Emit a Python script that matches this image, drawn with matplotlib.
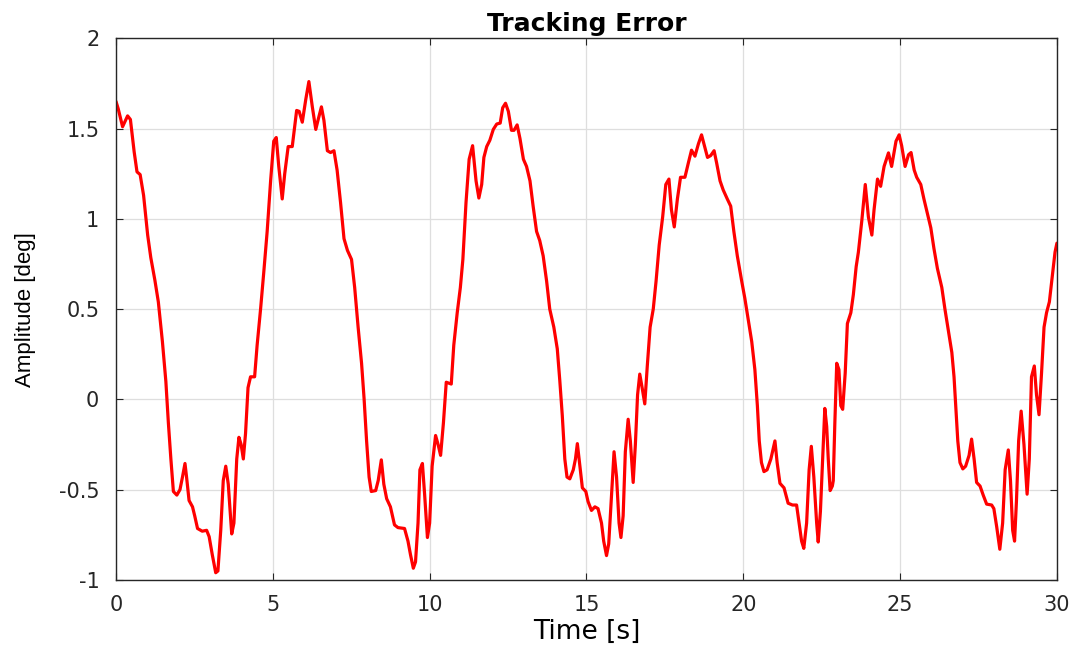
import matplotlib
matplotlib.use("Agg")
import matplotlib.pyplot as plt

plt.rcParams['font.family'] = ['DejaVu Sans']
plt.rcParams['axes.unicode_minus'] = False

# Tracking error samples (time in s, amplitude in deg)
time_s = [
    0.00, 0.07, 0.21, 0.37, 0.46, 0.58, 0.67, 0.77, 0.88, 1.01, 1.11, 1.24, 1.35, 1.48,
    1.59, 1.67, 1.75, 1.83, 1.94, 2.04, 2.12, 2.20, 2.25, 2.33, 2.44, 2.51, 2.60, 2.75,
    2.89, 2.97, 3.07, 3.18, 3.25, 3.34, 3.42, 3.50, 3.58, 3.69, 3.76, 3.85, 3.92, 3.99,
    4.06, 4.13, 4.21, 4.29, 4.42, 4.50, 4.61, 4.71, 4.82, 4.93, 5.03, 5.11, 5.19, 5.30,
    5.38, 5.49, 5.62, 5.76, 5.84, 5.94, 6.05, 6.15, 6.26, 6.37, 6.44, 6.55, 6.63, 6.74,
    6.84, 6.95, 7.05, 7.16, 7.27, 7.38, 7.51, 7.61, 7.72, 7.83, 7.91, 7.99, 8.07, 8.14,
    8.28, 8.36, 8.46, 8.54, 8.63, 8.75, 8.88, 8.99, 9.20, 9.31, 9.39, 9.48, 9.55, 9.63,
    9.69, 9.77, 9.84, 9.93, 10.00, 10.08, 10.19, 10.27, 10.35, 10.44, 10.53, 10.69, 10.77,
    10.88, 10.98, 11.06, 11.16, 11.26, 11.37, 11.48, 11.57, 11.66, 11.73, 11.82, 11.92,
    12.03, 12.14, 12.25, 12.33, 12.42, 12.51, 12.61, 12.69, 12.79, 12.88, 12.99, 13.09,
    13.20, 13.30, 13.41, 13.51, 13.62, 13.73, 13.83, 13.96, 14.07, 14.15, 14.23, 14.31,
    14.38, 14.47, 14.58, 14.65, 14.71, 14.79, 14.87, 14.98, 15.05, 15.16, 15.27, 15.37,
    15.48, 15.55, 15.64, 15.71, 15.80, 15.88, 15.96, 16.04, 16.10, 16.17, 16.24, 16.33,
    16.40, 16.49, 16.56, 16.63, 16.70, 16.78, 16.86, 16.94, 17.03, 17.13, 17.22, 17.32,
    17.43, 17.53, 17.63, 17.71, 17.80, 17.90, 18.00, 18.14, 18.25, 18.35, 18.46, 18.57,
    18.67, 18.76, 18.86, 18.96, 19.07, 19.15, 19.26, 19.36, 19.49, 19.60, 19.70, 19.81,
    19.95, 20.05, 20.16, 20.27, 20.37, 20.45, 20.51, 20.58, 20.66, 20.76, 20.88, 21.01,
    21.08, 21.17, 21.30, 21.43, 21.57, 21.70, 21.78, 21.86, 21.93, 22.02, 22.10, 22.17,
    22.25, 22.34, 22.39, 22.46, 22.54, 22.60, 22.66, 22.71, 22.77, 22.84, 22.87, 22.92,
    22.98, 23.05, 23.11, 23.17, 23.25, 23.32, 23.43, 23.51, 23.60, 23.67, 23.78, 23.89,
    23.99, 24.10, 24.17, 24.28, 24.38, 24.49, 24.63, 24.73, 24.87, 24.97, 25.05, 25.16,
    25.27, 25.35, 25.45, 25.53, 25.66, 25.76, 25.87, 25.98, 26.08, 26.19, 26.33, 26.43,
    26.54, 26.65, 26.72, 26.78, 26.84, 26.91, 27.00, 27.09, 27.20, 27.28, 27.36, 27.44,
    27.55, 27.65, 27.76, 27.92, 27.99, 28.08, 28.18, 28.27, 28.35, 28.45, 28.52, 28.59,
    28.65, 28.71, 28.78, 28.86, 28.95, 29.05, 29.12, 29.19, 29.28, 29.35, 29.43, 29.51,
    29.59, 29.67, 29.76, 29.85, 29.94, 30.00,
]
error_deg = [
    1.65, 1.61, 1.51, 1.57, 1.55, 1.37, 1.26, 1.245, 1.13, 0.91, 0.785, 0.66, 0.54, 0.32,
    0.10, -0.13, -0.33, -0.51, -0.53, -0.50, -0.43, -0.355, -0.43, -0.56, -0.595, -0.645, -0.715, -0.73,
    -0.725, -0.76, -0.86, -0.96, -0.95, -0.725, -0.45, -0.37, -0.47, -0.745, -0.685, -0.33, -0.21, -0.25,
    -0.33, -0.19, 0.065, 0.125, 0.125, 0.30, 0.50, 0.70, 0.93, 1.21, 1.43, 1.45, 1.29, 1.11,
    1.25, 1.40, 1.40, 1.60, 1.595, 1.535, 1.66, 1.76, 1.62, 1.495, 1.545, 1.62, 1.545, 1.377,
    1.367, 1.377, 1.27, 1.09, 0.89, 0.825, 0.775, 0.62, 0.40, 0.20, 0.005, -0.23, -0.43, -0.51,
    -0.505, -0.45, -0.335, -0.47, -0.55, -0.595, -0.695, -0.71, -0.715, -0.785, -0.86, -0.935, -0.90, -0.685,
    -0.39, -0.355, -0.525, -0.765, -0.685, -0.37, -0.20, -0.25, -0.31, -0.13, 0.095, 0.085, 0.30,
    0.48, 0.62, 0.775, 1.09, 1.33, 1.405, 1.21, 1.115, 1.19, 1.34, 1.40, 1.435,
    1.495, 1.525, 1.53, 1.615, 1.64, 1.595, 1.49, 1.49, 1.52, 1.445, 1.33, 1.29,
    1.21, 1.07, 0.93, 0.88, 0.795, 0.655, 0.50, 0.40, 0.28, 0.105, -0.09, -0.33,
    -0.43, -0.44, -0.39, -0.33, -0.245, -0.37, -0.49, -0.51, -0.565, -0.615, -0.595, -0.605,
    -0.685, -0.785, -0.865, -0.80, -0.525, -0.29, -0.43, -0.685, -0.765, -0.645, -0.29, -0.11,
    -0.23, -0.46, -0.25, 0.025, 0.14, 0.06, -0.025, 0.185, 0.40, 0.50, 0.655, 0.855,
    1.01, 1.19, 1.22, 1.05, 0.955, 1.11, 1.23, 1.23, 1.31, 1.38, 1.347, 1.415,
    1.465, 1.405, 1.34, 1.35, 1.377, 1.31, 1.21, 1.16, 1.11, 1.07, 0.93, 0.795,
    0.655, 0.56, 0.44, 0.32, 0.165, -0.035, -0.23, -0.35, -0.40, -0.39, -0.33, -0.23,
    -0.35, -0.465, -0.49, -0.575, -0.585, -0.585, -0.685, -0.785, -0.825, -0.685, -0.39, -0.26,
    -0.43, -0.685, -0.79, -0.62, -0.30, -0.05, -0.15, -0.33, -0.505, -0.48, -0.45, -0.13,
    0.20, 0.165, -0.035, -0.055, 0.145, 0.42, 0.48, 0.58, 0.735, 0.815, 0.99, 1.19,
    1.01, 0.91, 1.05, 1.22, 1.18, 1.29, 1.365, 1.29, 1.43, 1.465, 1.405, 1.29,
    1.355, 1.367, 1.27, 1.23, 1.19, 1.11, 1.03, 0.95, 0.835, 0.725, 0.62, 0.50,
    0.38, 0.26, 0.125, -0.055, -0.23, -0.35, -0.385, -0.37, -0.31, -0.22, -0.33, -0.46,
    -0.48, -0.53, -0.58, -0.585, -0.605, -0.705, -0.83, -0.685, -0.39, -0.28, -0.45, -0.725,
    -0.785, -0.565, -0.23, -0.065, -0.25, -0.525, -0.33, 0.125, 0.185, 0.025, -0.085, 0.145,
    0.40, 0.48, 0.54, 0.675, 0.815, 0.865,
]
x_ticks = [0, 5, 10, 15, 20, 25, 30]
y_ticks = [-1, -0.5, 0, 0.5, 1, 1.5, 2]
y_tick_labels = ['-1', '-0.5', '0', '0.5', '1', '1.5', '2']

fig = plt.figure(figsize=(10.84, 6.48), dpi=100)
ax = fig.add_axes([0.107, 0.105, 0.868, 0.836])

ax.plot(time_s, error_deg, color='#ff0000', linewidth=2.3,
        solid_joinstyle='round', solid_capstyle='round')

ax.set_xlim(0, 30)
ax.set_ylim(-1, 2)
ax.set_xticks(x_ticks)
ax.set_yticks(y_ticks)
ax.set_yticklabels(y_tick_labels)
ax.grid(True, color='#dedede', linewidth=0.9)
ax.set_axisbelow(True)

for spine in ax.spines.values():
    spine.set_color('#262626')
    spine.set_linewidth(1.0)
ax.tick_params(direction='in', length=5, width=0.8, colors='#262626',
               labelsize=15, top=True, right=True)
ax.tick_params(axis='x', pad=11)
ax.tick_params(axis='y', pad=12)

ax.set_title('Tracking Error', fontsize=18, fontweight='bold', pad=5)
ax.set_xlabel('Time [s]', fontsize=19, labelpad=3)
ax.set_ylabel('Amplitude [deg]', fontsize=16, family=['Liberation Sans'],
              labelpad=16)

fig.savefig('out.png', dpi=100)
